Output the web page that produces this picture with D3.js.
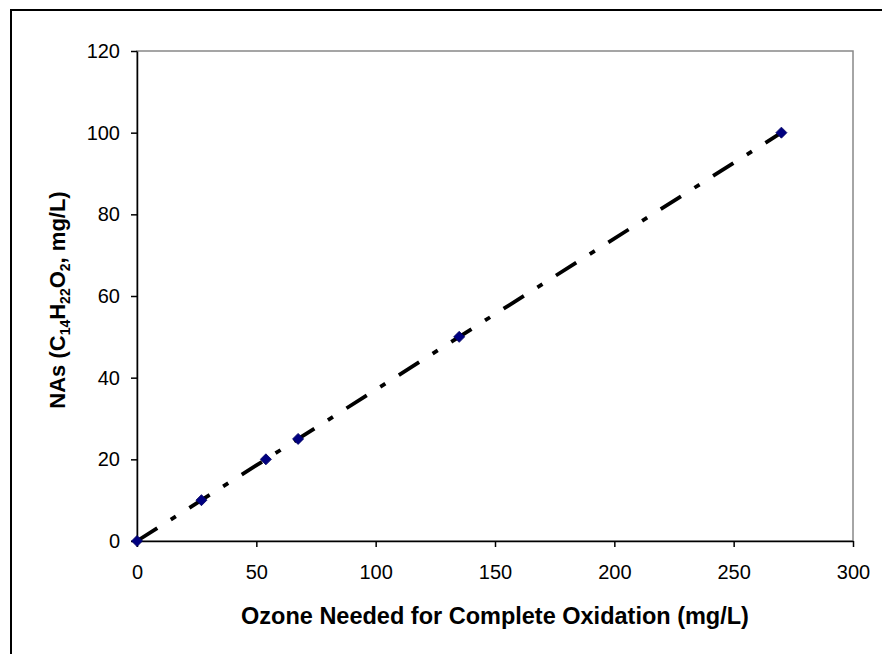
<!DOCTYPE html>
<html>
<head>
<meta charset="utf-8">
<script src="https://cdn.jsdelivr.net/npm/d3@7"></script>
<style>
  body { margin: 0; background: #fff; }
  text { font-family: "Liberation Sans", Arial, sans-serif; }
</style>
</head>
<body>
<div id="chart"></div>
<script>
// data
const ozone = [0, 27, 54, 67.5, 135, 270];
const nas = [0, 10, 20, 25, 50, 100];
const xTicks = [0, 50, 100, 150, 200, 250, 300];
const yTicks = [0, 20, 40, 60, 80, 100, 120];
const trendX = [0, 270];
const trendY = [0, 100];

const W = 882, H = 654;
const margin = {left: 137, top: 51, right: 29, bottom: 113};
const width = W - margin.left - margin.right;
const height = H - margin.top - margin.bottom;

const svg = d3.select("#chart").append("svg")
    .attr("width", W)
    .attr("height", H);

// outer frame (runs off the right and bottom edge)
svg.append("rect")
    .attr("x", 11).attr("y", 10)
    .attr("width", W + 20).attr("height", H + 20)
    .attr("fill", "none")
    .attr("stroke", "#000")
    .attr("stroke-width", 2);

const g = svg.append("g")
    .attr("transform", `translate(${margin.left},${margin.top})`);

const xScale = d3.scaleLinear().domain([0, 300]).range([0, width]);
const yScale = d3.scaleLinear().domain([0, 120]).range([height, 0]);

// plot area border, grey on top and right
g.append("rect")
    .attr("width", width).attr("height", height)
    .attr("fill", "none")
    .attr("stroke", "#888")
    .attr("stroke-width", 1.5);

const xAxis = g.append("g")
    .attr("transform", `translate(0,${height})`)
    .call(d3.axisBottom(xScale).tickValues(xTicks).tickSize(6).tickPadding(18).tickSizeOuter(0));

const yAxis = g.append("g")
    .call(d3.axisLeft(yScale).tickValues(yTicks).tickSize(6).tickPadding(11).tickSizeOuter(0));

[xAxis, yAxis].forEach(a => {
    a.select(".domain").attr("stroke", "#000").attr("stroke-width", 1.5);
    a.selectAll(".tick line").attr("stroke", "#000").attr("stroke-width", 1.5);
    a.selectAll(".tick text")
        .attr("fill", "#000")
        .style("font-size", "20px")
        .style("font-family", "'Liberation Sans', Arial, sans-serif");
});

// trend line
const line = d3.line()
    .x((d, i) => xScale(trendX[i]))
    .y(d => yScale(d));

g.append("path")
    .datum(trendY)
    .attr("fill", "none")
    .attr("stroke", "#000")
    .attr("stroke-width", 3.8)
    .attr("stroke-dasharray", "24,16,6,16")
    .attr("d", line);

// markers
g.selectAll(".pt")
    .data(ozone)
    .enter()
    .append("path")
    .attr("class", "pt")
    .attr("transform", (d, i) => `translate(${xScale(d)},${yScale(nas[i])})`)
    .attr("d", d3.symbol().type(d3.symbolDiamond2).size(78))
    .attr("fill", "#000080")
    .attr("stroke", "#000060")
    .attr("stroke-width", 0.8);

// axis titles
svg.append("text")
    .attr("x", margin.left + width / 2)
    .attr("y", 624)
    .attr("text-anchor", "middle")
    .style("font-size", "23.5px")
    .style("font-weight", "bold")
    .text("Ozone Needed for Complete Oxidation (mg/L)");

const yTitle = svg.append("text")
    .attr("transform", `translate(65,300) rotate(-90)`)
    .attr("text-anchor", "middle")
    .style("font-size", "22px")
    .style("font-weight", "bold");

yTitle.append("tspan").text("NAs (C");
yTitle.append("tspan").attr("dy", 5).style("font-size", "14px").text("14");
yTitle.append("tspan").attr("dy", -5).text("H");
yTitle.append("tspan").attr("dy", 5).style("font-size", "14px").text("22");
yTitle.append("tspan").attr("dy", -5).text("O");
yTitle.append("tspan").attr("dy", 5).style("font-size", "14px").text("2");
yTitle.append("tspan").attr("dy", -5).text(", mg/L)");
</script>
</body>
</html>
